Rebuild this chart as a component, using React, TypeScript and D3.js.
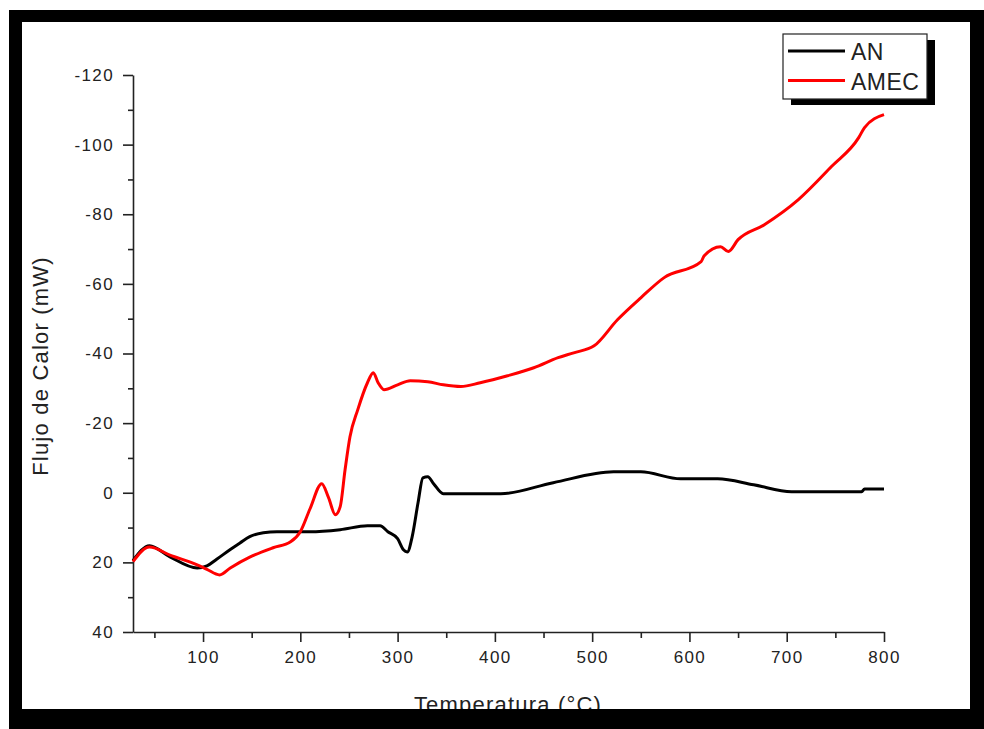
import React, { useRef, useEffect } from 'react';
import * as d3 from 'd3';

// AN series (temperature °C, heat flow mW)
const anTemp = [28, 45, 66, 94, 104, 114, 128, 138, 148, 162, 176, 210, 241, 269, 282, 290, 300, 306, 310, 315, 321, 326, 331, 337, 347, 406, 460, 522, 550, 591, 629, 666, 705, 777, 780, 800];
const anFlow = [19.5, 15.2, 18.4, 21.6, 21, 19.1, 16.3, 14.4, 12.6, 11.5, 11.2, 11.2, 10.6, 9.5, 9.5, 11.2, 13.2, 16.4, 17, 12.6, 2.9, -4.3, -4.6, -2.6, 0.3, 0.3, -2.9, -6, -6, -4, -4, -2.3, -0.3, -0.3, -1.1, -1.1];

// AMEC series
const amecTemp = [28, 45, 66, 94, 104, 117, 128, 148, 172, 190, 200, 210, 222, 229, 236, 241, 246, 251, 259, 269, 275, 280, 286, 300, 313, 331, 347, 365, 385, 413, 440, 465, 481, 502, 526, 550, 574, 612, 615, 632, 640, 650, 677, 712, 746, 774, 780, 800];
const amecFlow = [19.8, 15.6, 17.9, 20.7, 22, 23.6, 21.6, 18.5, 15.8, 14.1, 11.2, 4.6, -2.6, 1.4, 6.3, 4, -6.6, -16, -23.8, -31.6, -34.5, -31.6, -29.6, -31, -32.2, -31.9, -31, -30.5, -31.6, -33.6, -35.9, -38.8, -40.2, -42.2, -49.7, -56, -61.8, -66.4, -68, -70.7, -69.3, -72.7, -77, -84.2, -93.7, -102, -104.9, -108.6];

const xTicks = [100, 200, 300, 400, 500, 600, 700, 800];
const xMinor = [50, 150, 250, 350, 450, 550, 650, 750];
const yTicks = [-120, -100, -80, -60, -40, -20, 0, 20, 40];
const yMinor = [-110, -90, -70, -50, -30, -10, 10, 30];

const seriesNames = ['AN', 'AMEC'];
const seriesColors = ['#000000', '#ff0000'];

const W = 984;
const H = 729;
const FONT = '"Liberation Sans", Arial, sans-serif';

export default function App() {
  const svgRef = useRef<SVGSVGElement>(null);

  useEffect(() => {
    if (!svgRef.current) return;
    const svg = d3.select(svgRef.current);
    svg.selectAll('*').remove();

    // white page inside the frame
    svg.append('rect').attr('x', 0).attr('y', 0).attr('width', W).attr('height', H).attr('fill', '#fff');

    const x = d3.scaleLinear().domain([28, 800]).range([133, 884]);
    const y = d3.scaleLinear().domain([40, -120]).range([632, 75]);

    const axisColor = '#222';

    // X axis
    const gx = svg.append('g').attr('transform', `translate(0,${y(40)})`);
    gx.call(d3.axisBottom(x).tickValues(xTicks).tickSize(10).tickSizeOuter(0).tickPadding(9).tickFormat(d => String(d)));
    gx.append('g').call(d3.axisBottom(x).tickValues(xMinor).tickSize(6).tickSizeOuter(0).tickFormat(() => ''))
      .select('.domain').remove();

    // Y axis
    const gy = svg.append('g').attr('transform', `translate(${x(28)},0)`);
    gy.call(d3.axisLeft(y).tickValues(yTicks).tickSize(10).tickSizeOuter(0).tickPadding(9).tickFormat(d => String(d)));
    gy.append('g').call(d3.axisLeft(y).tickValues(yMinor).tickSize(5).tickSizeOuter(0).tickFormat(() => ''))
      .select('.domain').remove();

    svg.selectAll('.domain, .tick line').attr('stroke', axisColor).attr('stroke-width', 1.6);
    svg.selectAll('.tick text')
      .attr('fill', axisColor)
      .style('font-family', FONT)
      .style('font-size', '17px')
      .style('letter-spacing', '1.4px');

    // Lines
    const line = d3.line<[number, number]>()
      .x(d => x(d[0]))
      .y(d => y(d[1]))
      .curve(d3.curveMonotoneX);

    const anData = anTemp.map((t, i) => [t, anFlow[i]] as [number, number]);
    const amecData = amecTemp.map((t, i) => [t, amecFlow[i]] as [number, number]);

    svg.append('path').datum(anData)
      .attr('fill', 'none').attr('stroke', seriesColors[0]).attr('stroke-width', 3)
      .attr('stroke-linejoin', 'round').attr('d', line);
    svg.append('path').datum(amecData)
      .attr('fill', 'none').attr('stroke', seriesColors[1]).attr('stroke-width', 3)
      .attr('stroke-linejoin', 'round').attr('d', line);

    // Axis titles
    svg.append('text')
      .attr('x', 508).attr('y', 712)
      .attr('text-anchor', 'middle')
      .attr('fill', axisColor)
      .style('font-family', FONT).style('font-size', '22px').style('letter-spacing', '1.2px')
      .text('Temperatura (°C)');

    svg.append('text')
      .attr('transform', 'translate(48,366) rotate(-90)')
      .attr('text-anchor', 'middle')
      .attr('fill', axisColor)
      .style('font-family', FONT).style('font-size', '22px').style('letter-spacing', '1.2px')
      .text('Flujo de Calor (mW)');

    // Legend
    const lg = svg.append('g');
    lg.append('rect').attr('x', 791).attr('y', 40).attr('width', 144).attr('height', 65).attr('fill', '#000');
    lg.append('rect').attr('x', 783).attr('y', 34).attr('width', 144).attr('height', 65)
      .attr('fill', '#fff').attr('stroke', '#222').attr('stroke-width', 1.2);
    seriesNames.forEach((name, i) => {
      const cy = 51 + i * 29.5;
      lg.append('line').attr('x1', 788).attr('x2', 845).attr('y1', cy).attr('y2', cy)
        .attr('stroke', seriesColors[i]).attr('stroke-width', 3);
      lg.append('text').attr('x', 851).attr('y', cy + 9)
        .attr('fill', axisColor)
        .style('font-family', FONT).style('font-size', '23px').style('letter-spacing', '0.5px')
        .text(name);
    });

    // Black frame on top
    svg.append('path')
      .attr('fill', '#000')
      .attr('fill-rule', 'evenodd')
      .attr('d', `M9,10H${W}V${H}H9Z M22,22H970V709H22Z`);
  }, []);

  return (
    <div style={{ position: 'absolute', left: 0, top: 0, width: W, height: H }}>
      <svg ref={svgRef} width={W} height={H} style={{ display: 'block' }}></svg>
    </div>
  );
}
